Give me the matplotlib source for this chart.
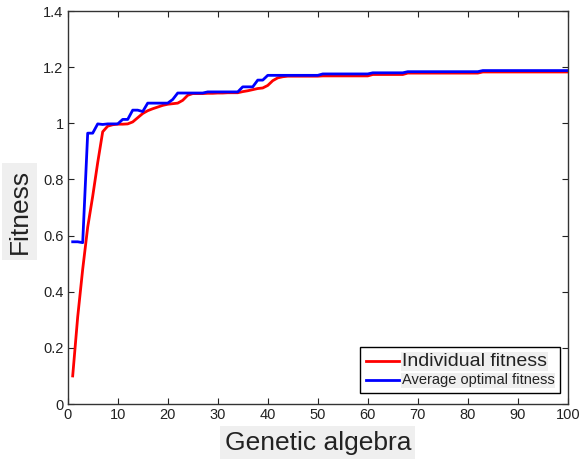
import matplotlib
matplotlib.use("Agg")
import matplotlib.pyplot as plt
import numpy as np

plt.rcParams['font.family'] = ['Liberation Sans', 'DejaVu Sans']

generations = list(range(1, 101))

individual_fitness = [
    0.10, 0.31, 0.48, 0.63, 0.74, 0.86, 0.97, 0.99, 0.995, 0.997,
    0.997, 0.998, 1.005, 1.02, 1.035, 1.045, 1.052, 1.058, 1.064, 1.068,
    1.07, 1.072, 1.082, 1.10, 1.106, 1.106, 1.106, 1.107, 1.107, 1.108,
    1.108, 1.109, 1.109, 1.109, 1.113, 1.116, 1.12, 1.124, 1.126, 1.135,
    1.152, 1.162, 1.166, 1.168, 1.168, 1.168, 1.168, 1.168, 1.168, 1.168,
    1.169, 1.169, 1.169, 1.169, 1.169, 1.169, 1.169, 1.169, 1.169, 1.169,
    1.174, 1.174, 1.174, 1.174, 1.174, 1.174, 1.174, 1.179, 1.179, 1.179,
    1.179, 1.179, 1.179, 1.179, 1.179, 1.179, 1.179, 1.179, 1.179, 1.179,
    1.179, 1.179, 1.183, 1.183, 1.183, 1.183, 1.183, 1.183, 1.183, 1.183,
    1.183, 1.183, 1.183, 1.183, 1.183, 1.183, 1.183, 1.183, 1.183, 1.183,
]

average_optimal_fitness = [
    0.578, 0.578, 0.575, 0.965, 0.965, 0.998, 0.996, 0.998, 0.998, 0.998,
    1.014, 1.014, 1.047, 1.047, 1.042, 1.072, 1.072, 1.072, 1.072, 1.072,
    1.085, 1.108, 1.108, 1.108, 1.108, 1.108, 1.108, 1.112, 1.112, 1.112,
    1.112, 1.112, 1.112, 1.112, 1.13, 1.13, 1.13, 1.154, 1.154, 1.171,
    1.171, 1.171, 1.171, 1.171, 1.171, 1.171, 1.171, 1.171, 1.171, 1.171,
    1.176, 1.176, 1.176, 1.176, 1.176, 1.176, 1.176, 1.176, 1.176, 1.176,
    1.18, 1.18, 1.18, 1.18, 1.18, 1.18, 1.18, 1.184, 1.184, 1.184,
    1.184, 1.184, 1.184, 1.184, 1.184, 1.184, 1.184, 1.184, 1.184, 1.184,
    1.184, 1.184, 1.188, 1.188, 1.188, 1.188, 1.188, 1.188, 1.188, 1.188,
    1.188, 1.188, 1.188, 1.188, 1.188, 1.188, 1.188, 1.188, 1.188, 1.188,
]

x_ticks = [0, 10, 20, 30, 40, 50, 60, 70, 80, 90, 100]
y_ticks = [0, 0.2, 0.4, 0.6, 0.8, 1.0, 1.2, 1.4]
y_tick_labels = ['0', '0.2', '0.4', '0.6', '0.8', '1', '1.2', '1.4']

fig = plt.figure(figsize=(5.8, 4.61), dpi=100)
ax = fig.add_axes([0.1167, 0.1236, 0.979 - 0.1167, 0.976 - 0.1236])

ax.plot(generations, individual_fitness, color='#ff0000', lw=2.0,
        label='Individual fitness')
ax.plot(generations, average_optimal_fitness, color='#0000ff', lw=2.0,
        label='Average optimal fitness')

ax.set_xlim(0, 100)
ax.set_ylim(0, 1.4)
ax.set_xticks(x_ticks)
ax.set_xticklabels([str(t) for t in x_ticks])
ax.set_yticks(y_ticks)
ax.set_yticklabels(y_tick_labels)
ax.tick_params(direction='in', top=True, right=True, length=4, width=0.8,
               labelsize=10.5, colors='#222222', pad=3)
for sp in ax.spines.values():
    sp.set_color('#333333')
    sp.set_linewidth(1.0)

bg = '#efefef'
ax.set_xlabel('Genetic algebra', fontsize=19, color='#222222',
              bbox=dict(facecolor=bg, edgecolor='none', pad=3), labelpad=6)
ax.set_ylabel('Fitness', fontsize=19, color='#222222',
              bbox=dict(facecolor=bg, edgecolor='none', pad=4), labelpad=6)
ax.yaxis.set_label_coords(-0.072, 0.49)

leg = ax.legend(loc='lower right', frameon=True, fancybox=False,
                edgecolor='black', framealpha=1, handlelength=2.4,
                handletextpad=0.2, borderpad=0.4, labelspacing=0.25,
                borderaxespad=0, bbox_to_anchor=(0.985, 0.028))
leg.get_frame().set_linewidth(1.0)
texts = leg.get_texts()
texts[0].set_fontsize(14)
texts[1].set_fontsize(10.5)
for t in texts:
    t.set_color('#222222')
    t.set_bbox(dict(facecolor=bg, edgecolor='none', pad=0.5))

fig.savefig('out.png', dpi=100, facecolor='white')
